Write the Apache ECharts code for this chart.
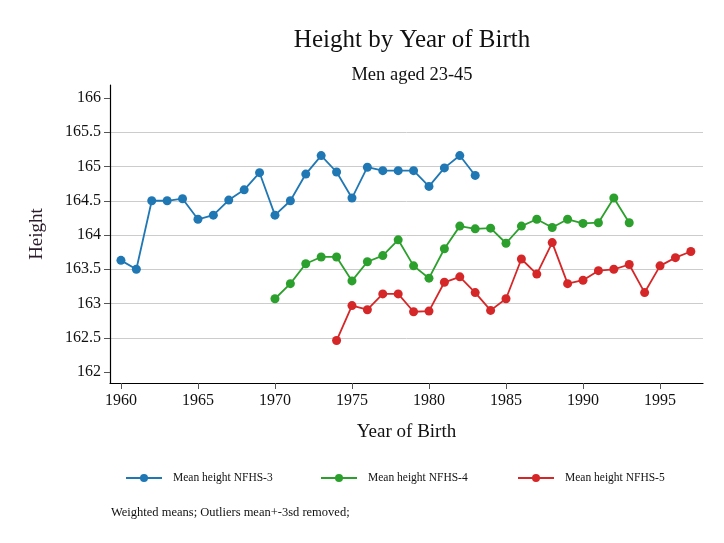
<!DOCTYPE html>
<html><head><meta charset="utf-8">
<script src="https://cdn.jsdelivr.net/npm/echarts@6/dist/echarts.min.js"></script>
<style>html,body{margin:0;padding:0;background:#fff}#c{width:724px;height:543px}</style>
</head><body><div id="c"></div>
<script>
var yearsNFHS3 = [1960,1961,1962,1963,1964,1965,1966,1967,1968,1969,1970,1971,1972,1973,1974,1975,1976,1977,1978,1979,1980,1981,1982,1983];
var heightNFHS3 = [163.63,163.50,164.50,164.50,164.53,164.23,164.29,164.51,164.66,164.91,164.29,164.50,164.89,165.16,164.92,164.54,164.99,164.94,164.94,164.94,164.71,164.98,165.16,164.87];
var yearsNFHS4 = [1970,1971,1972,1973,1974,1975,1976,1977,1978,1979,1980,1981,1982,1983,1984,1985,1986,1987,1988,1989,1990,1991,1992,1993];
var heightNFHS4 = [163.07,163.29,163.58,163.68,163.68,163.33,163.61,163.70,163.93,163.55,163.37,163.80,164.13,164.09,164.10,163.88,164.13,164.23,164.11,164.23,164.17,164.18,164.54,164.18];
var yearsNFHS5 = [1974,1975,1976,1977,1978,1979,1980,1981,1982,1983,1984,1985,1986,1987,1988,1989,1990,1991,1992,1993,1994,1995,1996,1997];
var heightNFHS5 = [162.46,162.97,162.91,163.14,163.14,162.88,162.89,163.31,163.39,163.16,162.90,163.07,163.65,163.43,163.89,163.29,163.34,163.48,163.50,163.57,163.16,163.55,163.67,163.76];
var xTicks = [1960,1965,1970,1975,1980,1985,1990,1995];
var yTicks = [162,162.5,163,163.5,164,164.5,165,165.5,166];
var seriesNames = ['Mean height NFHS-3','Mean height NFHS-4','Mean height NFHS-5'];
var colors = ['#1f77b4','#2ca02c','#d62728'];

function pairs(xs, ys){ return xs.map(function(x,i){ return [x, ys[i]]; }); }

var font = '"Liberation Serif", "DejaVu Serif", serif';
var gridColors = yTicks.map(function(v,i){ return (i===0||i===yTicks.length-1) ? 'rgba(0,0,0,0)' : '#cccccc'; });
var legendLefts = [125, 320, 517];

var chart = echarts.init(document.getElementById('c'), null, {renderer:'canvas'});
var data = [pairs(yearsNFHS3, heightNFHS3), pairs(yearsNFHS4, heightNFHS4), pairs(yearsNFHS5, heightNFHS5)];
chart.setOption({
  backgroundColor: '#fff',
  animation: false,
  color: colors,
  title: [
    {text: 'Height by Year of Birth', left: 407, top: 23, textAlign: 'center',
     textStyle: {fontFamily: font, fontSize: 25, fontWeight: 'normal', color: '#111'}},
    {text: 'Men aged 23-45', left: 407, top: 61, textAlign: 'center',
     textStyle: {fontFamily: font, fontSize: 18.5, fontWeight: 'normal', color: '#111'}},
    {text: 'Weighted means; Outliers mean+-3sd removed;', left: 106, top: 501,
     textStyle: {fontFamily: font, fontSize: 12.5, fontWeight: 'normal', color: '#111'}}
  ],
  legend: seriesNames.map(function(n, i){
    return {
      top: 472, left: legendLefts[i], padding: 0, itemWidth: 36, itemHeight: 10,
      data: [n],
      textStyle: {fontFamily: font, fontSize: 11.5, color: '#111', padding: [0, 0, 0, 6]}
    };
  }),
  grid: {left: 110, right: 21, top: 85, bottom: 160, containLabel: false},
  xAxis: {
    type: 'value', min: 1959.29, max: 1997.79,
    name: 'Year of Birth', nameLocation: 'middle', nameGap: 40,
    nameTextStyle: {fontFamily: font, fontSize: 19, color: '#111'},
    axisLine: {show: true, onZero: false, lineStyle: {color: '#000', width: 1.2}},
    axisTick: {show: true, length: 6, lineStyle: {color: '#555'}, customValues: xTicks},
    axisLabel: {fontFamily: font, fontSize: 16, color: '#111', margin: 10, customValues: xTicks,
      formatter: function(v){ return String(v); }},
    splitLine: {show: false}
  },
  yAxis: {
    type: 'value', min: 161.84, max: 166.19,
    name: 'Height', nameLocation: 'middle', nameGap: 63, nameRotate: 90,
    nameTextStyle: {fontFamily: font, fontSize: 19, color: '#2a1a2a'},
    axisLine: {show: true, onZero: false, lineStyle: {color: '#000', width: 1.2}},
    axisTick: {show: true, length: 6, lineStyle: {color: '#555'}, customValues: yTicks},
    axisLabel: {fontFamily: font, fontSize: 16, color: '#111', margin: 9, customValues: yTicks,
      formatter: function(v){ return String(v); }},
    splitLine: {show: true, lineStyle: {color: gridColors, width: 1}}
  },
  series: data.map(function(d, i){
    return {
      name: seriesNames[i], type: 'line', data: d,
      symbol: 'circle', symbolSize: 9, showSymbol: true,
      lineStyle: {width: 1.8, color: colors[i]},
      itemStyle: {color: colors[i]}
    };
  })
});
</script></body></html>
